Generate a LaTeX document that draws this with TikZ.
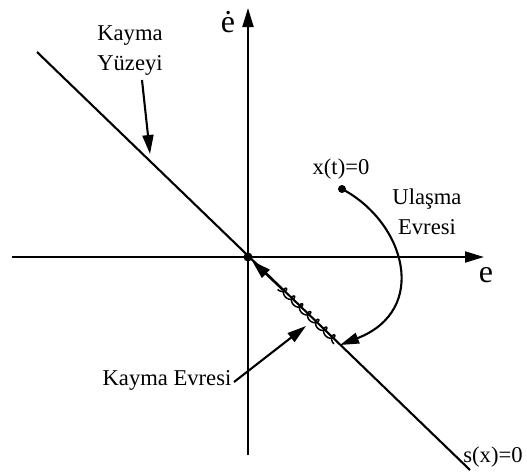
\documentclass[tikz,border=0pt]{standalone}
\usepackage{fontspec}
\setmainfont{Liberation Serif}
\usetikzlibrary{arrows.meta}
\begin{document}
\begin{tikzpicture}[x=1pt,y=-1pt,
  line width=2.1pt,
  tip/.style={-{Triangle[length=19pt,width=11pt]}},
  lbl/.style={font=\fontsize{22.6}{30}\selectfont, inner sep=0pt, align=center},
  axlbl/.style={font=\fontsize{32}{32}\selectfont, inner sep=0pt},
  dot/.style={circle, fill=black, inner sep=0pt}]
\useasboundingbox (0,0) rectangle (527,471);
% axes
\coordinate (xL) at (12,257);
\coordinate (xR) at (484,257);
\coordinate (yB) at (248,455);
\coordinate (yT) at (248,8);
\draw[tip] (xL) -- (xR);
\draw[tip] (yB) -- (yT);
\node[axlbl, anchor=base] (edot) at (228,32) {ė};
\node[axlbl, anchor=base] (e) at (486,282) {e};
% sliding surface
\coordinate (sA) at (37,52);
\coordinate (sB) at (470,470);
\draw (sA) -- (sB);
\node[dot, minimum size=9pt] (O) at (248,257) {};
\node[lbl, anchor=base] (sx) at (493,462) {s(x)=0};
% Kayma Yuzeyi label
\node[lbl] (ky) at (130,51) {Kayma\\Yüzeyi};
\coordinate (kyS) at (142,80);
\coordinate (kyT) at (150,154);
\draw[tip] (kyS) -- (kyT);
% reaching phase
\node[dot, minimum size=8pt] (x0) at (342,189) {};
\node[lbl, anchor=base] (xt) at (341,174) {x(t)=0};
\coordinate (hit) at (340,345);
\draw[tip] (x0.center) .. controls (405,222) and (430,310) .. (hit);
\node[lbl] (ul) at (427,212) {Ulaşma\\Evresi};
% sliding phase (chattering)
\coordinate (wE) at (283,290);
\draw[line width=1.5pt] plot[domain=0:2520, samples=420]
  ({280+0.719*(1.78*\x*pi/180+3.4*sin(\x))-0.695*(3.4*cos(\x))},
   {287+0.695*(1.78*\x*pi/180+3.4*sin(\x))+0.719*(3.4*cos(\x))});
\draw[tip] (wE) -- (O);
% Kayma Evresi label
\node[lbl, anchor=base] (ke) at (167,385) {Kayma Evresi};
\coordinate (keS) at (234,382);
\coordinate (keT) at (306,326);
\draw[tip] (keS) -- (keT);
\end{tikzpicture}
\end{document}
